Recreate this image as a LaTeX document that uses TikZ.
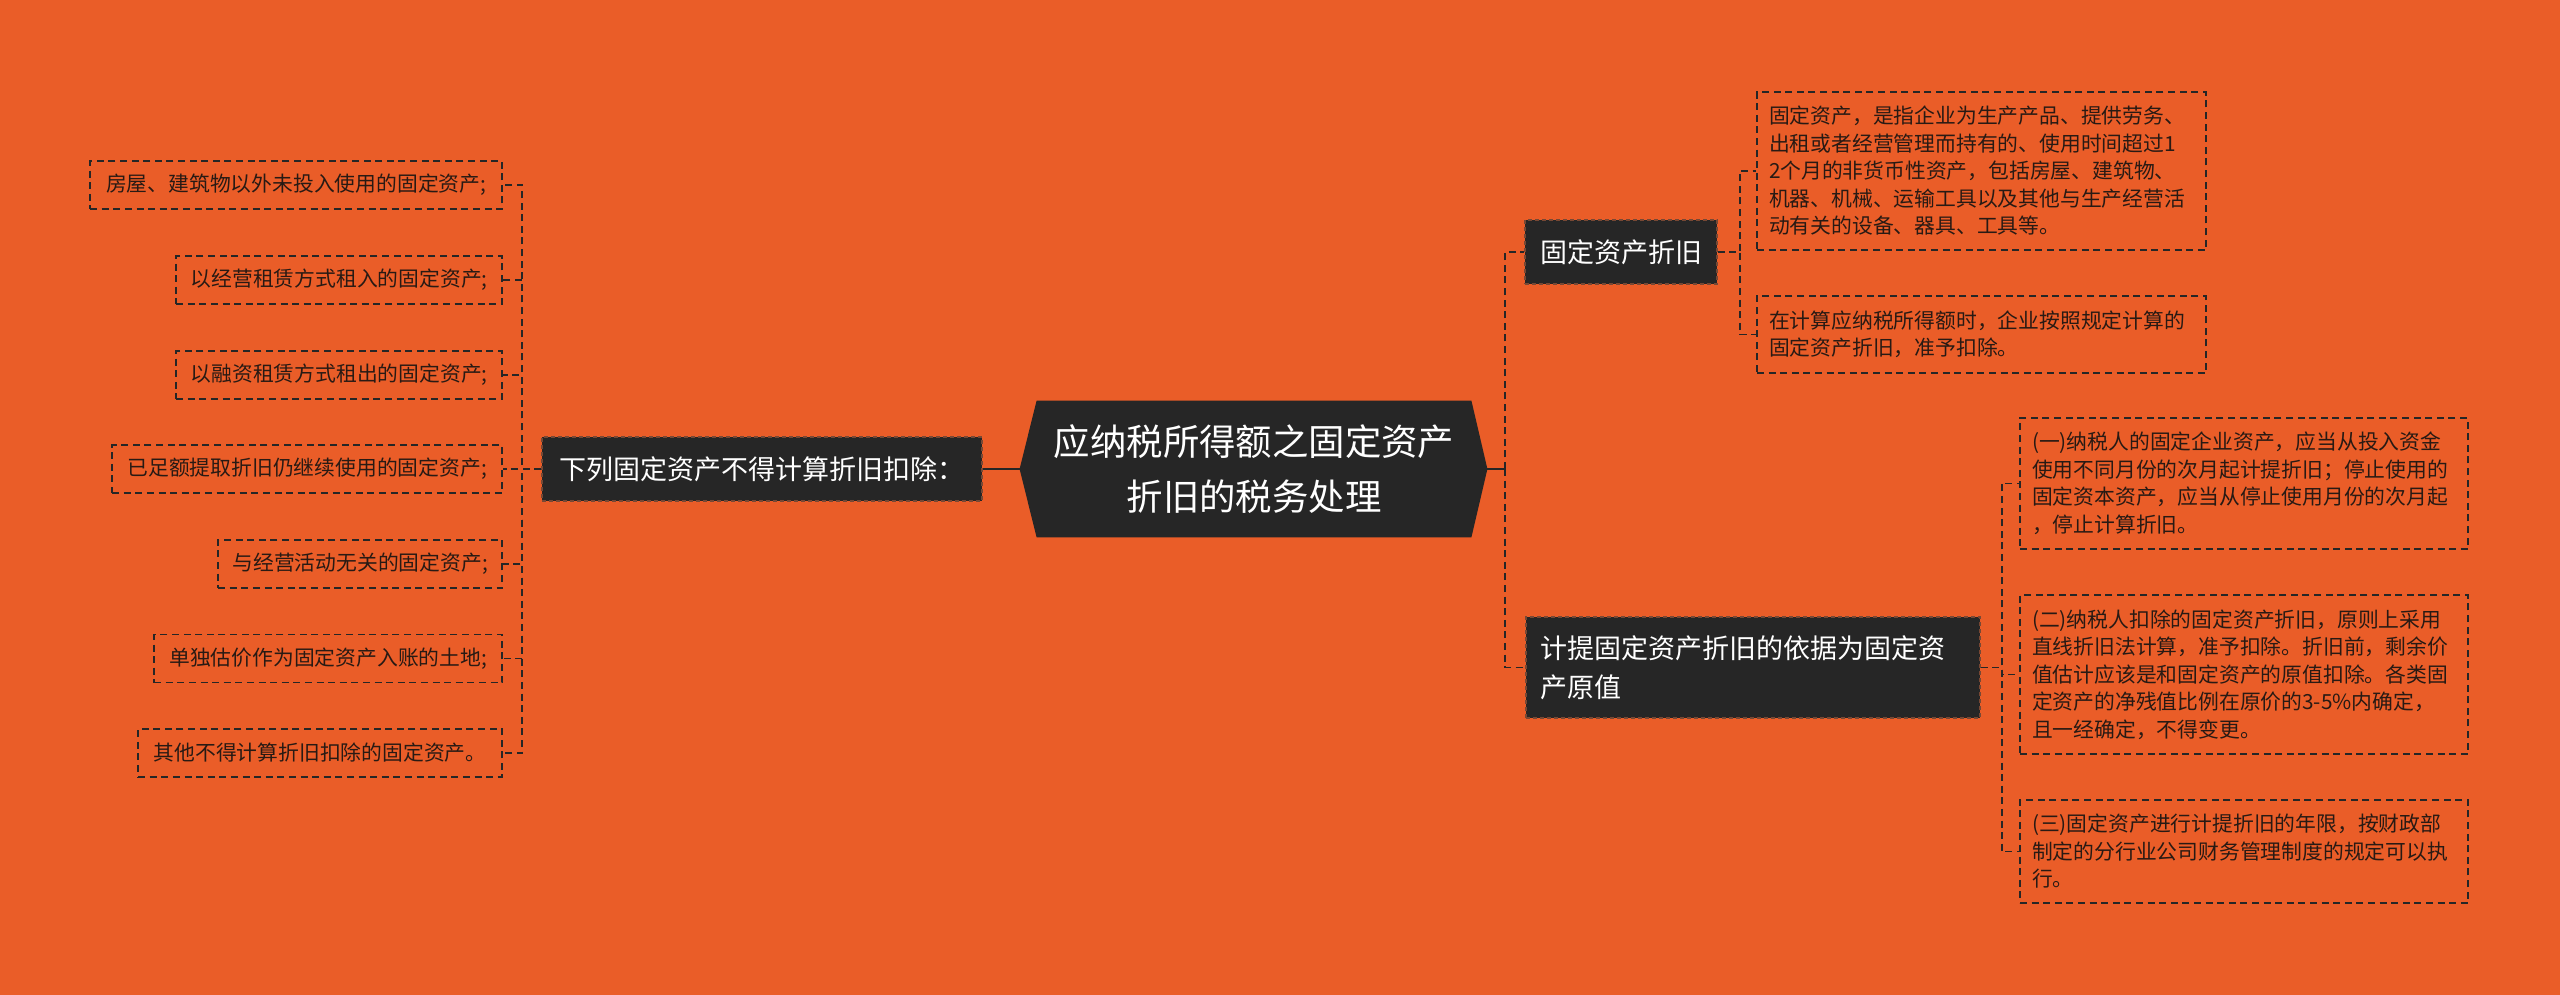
\documentclass[tikz,border=0pt]{standalone}
\usepackage{fontspec}
\setmainfont{Noto Sans CJK SC}
\usetikzlibrary{calc}
\definecolor{bgc}{RGB}{234,93,40}
\definecolor{dk}{RGB}{38,38,38}
\definecolor{lt}{RGB}{40,26,20}
\definecolor{edgec}{RGB}{120,72,52}
\pgfdeclarelayer{bg}
\pgfsetlayers{bg,main}
\begin{document}
\begin{tikzpicture}[x=0.5pt,y=-0.5pt,
  leaf/.style={draw=dk, dash pattern=on 3.5pt off 2.3pt, line width=0.9pt, text=lt,
    font=\fontsize{10.4pt}{13.75pt}\selectfont, inner xsep=6pt, inner ysep=0pt, align=left},
  darkbox/.style={fill=dk, draw=edgec, dash pattern=on 2pt off 1.5pt, line width=0.6pt,
    text=white, font=\fontsize{13.5pt}{19.5pt}\selectfont, inner ysep=0pt},
  conn/.style={draw=dk, dash pattern=on 3.5pt off 2.3pt, line width=0.95pt},
  trunk/.style={draw=dk, line width=1.3pt}]
\useasboundingbox (0,0) rectangle (2560,995);
\begin{pgfonlayer}{bg}
\fill[bgc] (0,0) rectangle (2560,995);
\end{pgfonlayer}

% central
\node[text=white, font=\fontsize{18.2pt}{27.5pt}\selectfont, align=center,
  minimum width=217pt, minimum height=68pt, inner sep=0pt] (c) at (1254,469)
  {应纳税所得额之固定资产\\折旧的税务处理};
\begin{pgfonlayer}{bg}
\fill[dk] (c.north west) -- (c.north east) -- ($(c.east)+(16,0)$) -- (c.south east)
  -- (c.south west) -- ($(c.west)+(-17,0)$) -- cycle;
\end{pgfonlayer}
\coordinate (cw) at ($(c.west)+(-17,0)$);
\coordinate (ce) at ($(c.east)+(16,0)$);

% left branch
\node[darkbox, minimum width=220pt, minimum height=32pt] (lft) at (762,469)
  {下列固定资产不得计算折旧扣除：};
\node[leaf, anchor=east, minimum width=206pt, minimum height=24pt] (l1) at (503,185) {房屋、建筑物以外未投入使用的固定资产;};
\node[leaf, anchor=east, minimum width=163pt, minimum height=24pt] (l2) at (503,280) {以经营租赁方式租入的固定资产;};
\node[leaf, anchor=east, minimum width=163pt, minimum height=24pt] (l3) at (503,375) {以融资租赁方式租出的固定资产;};
\node[leaf, anchor=east, minimum width=195pt, minimum height=24pt] (l4) at (503,469) {已足额提取折旧仍继续使用的固定资产;};
\node[leaf, anchor=east, minimum width=142pt, minimum height=24pt] (l5) at (503,564) {与经营活动无关的固定资产;};
\node[leaf, anchor=east, minimum width=174pt, minimum height=24pt] (l6) at (503,658.5) {单独估价作为固定资产入账的土地;};
\node[leaf, anchor=east, minimum width=182pt, minimum height=24pt] (l7) at (503,753) {其他不得计算折旧扣除的固定资产。};

% right branches
\node[darkbox, minimum width=96pt, minimum height=32pt] (fa) at (1621,252) {固定资产折旧};
\node[darkbox, text width=213pt, inner xsep=7pt, minimum height=50.5pt, align=left] (jt) at (1753,667.5)
  {计提固定资产折旧的依据为固定资\\产原值};

\node[leaf, text width=212.5pt, minimum height=79pt] (r1) at (1981.5,171)
  {固定资产，是指企业为生产产品、提供劳务、\\出租或者经营管理而持有的、使用时间超过1\\2个月的非货币性资产，包括房屋、建筑物、\\机器、机械、运输工具以及其他与生产经营活\\动有关的设备、器具、工具等。};
\node[leaf, text width=212.5pt, minimum height=38.5pt] (r2) at (1981.5,334.5)
  {在计算应纳税所得额时，企业按照规定计算的\\固定资产折旧，准予扣除。};
\node[leaf, text width=212pt, minimum height=65.5pt] (ra) at (2244,483.5)
  {(一)纳税人的固定企业资产，应当从投入资金\\使用不同月份的次月起计提折旧；停止使用的\\固定资本资产，应当从停止使用月份的次月起\\，停止计算折旧。};
\node[leaf, text width=212pt, minimum height=79.5pt] (rb) at (2244,674.5)
  {(二)纳税人扣除的固定资产折旧，原则上采用\\直线折旧法计算，准予扣除。折旧前，剩余价\\值估计应该是和固定资产的原值扣除。各类固\\定资产的净残值比例在原价的3-5\%内确定，\\且一经确定，不得变更。};
\node[leaf, text width=212pt, minimum height=51.5pt] (rc) at (2244,851.5)
  {(三)固定资产进行计提折旧的年限，按财政部\\制定的分行业公司财务管理制度的规定可以执\\行。};

% connectors
\draw[trunk] (lft.east) -- (cw);
\foreach \n in {l1,l2,l3,l4,l5,l6,l7}
  \draw[conn] (lft.west) -- ++(-19,0) |- (\n.east);
\draw[trunk] (ce) -- ++(18,0) coordinate (tr);
\draw[conn] (tr) |- (fa.west);
\draw[conn] (tr) |- (jt.west);
\draw[conn] (fa.east) -- ++(22,0) |- (r1.west);
\draw[conn] (fa.east) -- ++(22,0) |- (r2.west);
\draw[conn] (jt.east) -- ++(21,0) |- (ra.west);
\draw[conn] (jt.east) -- ++(21,0) |- (rb.west);
\draw[conn] (jt.east) -- ++(21,0) |- (rc.west);
\end{tikzpicture}
\end{document}
